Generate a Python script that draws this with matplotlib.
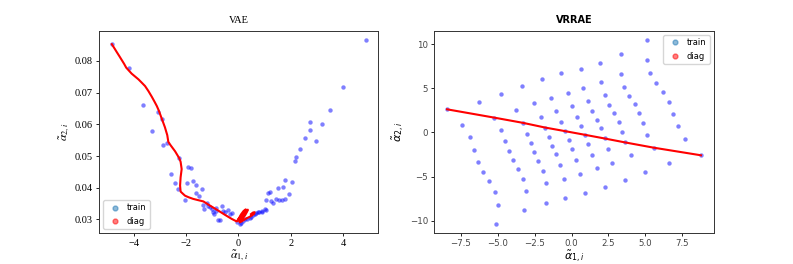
import numpy as np
import matplotlib
matplotlib.use("Agg")
import matplotlib.pyplot as plt
from matplotlib.lines import Line2D

# ---- VAE latent space (left) ----
vae_train_x = [-4.84, -4.17, -3.65, -3.29, -3.07, -2.92, -2.87, -2.74, -2.28, -2.56,
               -2.42, -2.30, -2.05, -1.98, -1.94, -1.81, -1.72, -1.61, -1.64, -1.49,
               -1.41, -1.34, -1.21, -1.15, -1.30, -1.02, -0.96, -0.86, -0.64, -0.60,
               -0.41, -0.92, -0.77, -0.71, -0.32, -0.26, -1.10, -0.50, -0.85,
               -0.07, 0.06, 0.10, 0.18, 0.25, 0.32, 0.44, 0.50, 0.56, 0.63,
               0.69, 0.76, 0.79, 0.89, 0.92, 1.01, 1.05,
               1.05, 1.14, 1.20, 1.23, 1.33, 1.42, 1.50, 1.56, 1.65, 1.69,
               1.77, 1.80, 1.94, 2.03, 2.18, 2.22, 2.37, 2.54, 2.73, 2.73,
               2.96, 3.19, 3.50, 4.01, 4.87]
vae_train_y = [0.0855, 0.0777, 0.0662, 0.0578, 0.0638, 0.0617, 0.0534, 0.0542, 0.0494, 0.0442,
               0.0415, 0.0395, 0.0362, 0.0415, 0.0467, 0.0461, 0.0420, 0.0409, 0.0382, 0.0375,
               0.0396, 0.0347, 0.0352, 0.0344, 0.0334, 0.0334, 0.0325, 0.0328, 0.0344, 0.0328,
               0.0331, 0.0318, 0.0299, 0.0299, 0.0318, 0.0322, 0.0340, 0.0325, 0.0335,
               0.0292, 0.0286, 0.0290, 0.0294, 0.0302, 0.0300, 0.0304, 0.0308, 0.0315, 0.0318,
               0.0321, 0.0323, 0.0325, 0.0328, 0.0323, 0.0334, 0.0331,
               0.0363, 0.0384, 0.0388, 0.0357, 0.0353, 0.0365, 0.0400, 0.0360, 0.0363, 0.0402,
               0.0423, 0.0365, 0.0381, 0.0419, 0.0486, 0.0498, 0.0522, 0.0556, 0.0582, 0.0608,
               0.0548, 0.0600, 0.0644, 0.0717, 0.0866]

vae_diag_x = [-4.84, -4.74, -4.65, -4.55, -4.46, -4.37, -4.29, -4.18, -4.08, -3.95,
              -3.82, -3.70, -3.57, -3.44, -3.31, -3.21, -3.12, -3.04, -2.97, -2.89,
              -2.81, -2.72, -2.68, -2.60, -2.51, -2.42, -2.34, -2.26, -2.21, -2.17,
              -2.19, -2.21, -2.23, -2.21, -2.12, -2.04, -1.90, -1.73, -1.54, -1.34,
              -1.09, -0.77, -0.52, -0.26, -0.07,
              0.00, 0.08, 0.16, 0.24, 0.30, 0.28, 0.20, 0.10, 0.02, -0.03,
              0.02, 0.10, 0.20, 0.30, 0.36, 0.34, 0.26, 0.16, 0.08, 0.05,
              0.12, 0.22, 0.32, 0.42, 0.52, 0.60, 0.62, 0.56, 0.48]
vae_diag_y = [0.0853, 0.0840, 0.0828, 0.0815, 0.0803, 0.0791, 0.0779, 0.0769, 0.0760, 0.0751,
              0.0742, 0.0732, 0.0721, 0.0705, 0.0687, 0.0672, 0.0658, 0.0643, 0.0627, 0.0609,
              0.0591, 0.0566, 0.0545, 0.0535, 0.0525, 0.0515, 0.0504, 0.0493, 0.0482, 0.0459,
              0.0446, 0.0433, 0.0407, 0.0388, 0.0381, 0.0375, 0.0370, 0.0365, 0.0361, 0.0357,
              0.0344, 0.0328, 0.0315, 0.0302, 0.0294,
              0.0296, 0.0303, 0.0312, 0.0321, 0.0328, 0.0332, 0.0327, 0.0316, 0.0304, 0.0298,
              0.0302, 0.0311, 0.0320, 0.0327, 0.0331, 0.0326, 0.0314, 0.0302, 0.0294, 0.0291,
              0.0294, 0.0299, 0.0304, 0.0308, 0.0313, 0.0318, 0.0323, 0.0322, 0.0317]

# ---- VRRAE latent space (right): 10 x 10 parameter grid ----
vrrae_x = [
    [-8.44, -7.42, -6.90, -6.63, -6.36, -6.00, -5.57, -5.16, -5.00, -5.09],
    [-6.29, -5.25, -4.80, -4.48, -4.25, -3.94, -3.60, -3.30, -3.12, -3.21],
    [-4.75, -3.78, -3.28, -3.03, -2.78, -2.53, -2.24, -1.95, -1.76, -1.74],
    [-3.35, -2.53, -2.10, -1.79, -1.56, -1.31, -1.06, -0.79, -0.54, -0.41],
    [-2.01, -1.38, -1.02, -0.70, -0.43, -0.20, 0.05, 0.29, 0.59, 0.90],
    [-0.68, -0.27, 0.05, 0.34, 0.63, 0.90, 1.15, 1.38, 1.72, 2.24],
    [0.61, 0.81, 1.11, 1.38, 1.70, 1.97, 2.24, 2.47, 2.76, 3.60],
    [1.90, 1.99, 2.24, 2.53, 2.87, 3.19, 3.39, 3.64, 4.05, 4.98],
    [3.33, 3.33, 3.55, 3.89, 4.30, 4.59, 4.84, 5.11, 5.59, 6.58],
    [5.14, 5.09, 5.34, 5.75, 6.20, 6.58, 6.90, 7.19, 7.71, 8.78],
]
vrrae_y = [
    [2.63, 0.86, -0.56, -1.99, -3.31, -4.44, -5.56, -6.73, -8.27, -10.38],
    [3.46, 1.69, 0.30, -0.98, -2.11, -3.12, -4.10, -5.23, -6.69, -8.83],
    [4.36, 2.56, 1.09, -0.19, -1.24, -2.22, -3.20, -4.36, -5.79, -7.97],
    [5.30, 3.31, 1.77, 0.56, -0.53, -1.50, -2.48, -3.68, -5.23, -7.41],
    [6.09, 3.95, 2.44, 1.17, 0.15, -0.90, -1.92, -3.16, -4.66, -6.84],
    [6.73, 4.51, 2.97, 1.77, 0.71, -0.26, -1.35, -2.59, -4.06, -6.17],
    [7.26, 5.00, 3.53, 2.41, 1.39, 0.53, -0.68, -1.92, -3.42, -5.34],
    [7.89, 5.68, 4.21, 3.16, 2.18, 1.20, 0.11, -1.13, -2.59, -4.44],
    [8.87, 6.62, 5.19, 4.14, 3.23, 2.18, 1.02, -0.30, -1.73, -3.46],
    [10.49, 8.20, 6.73, 5.60, 4.59, 3.42, 2.11, 0.71, -0.79, -2.59],
]

fig, (ax1, ax2) = plt.subplots(1, 2, figsize=(7.93, 2.64), dpi=100)

serif = "Liberation Serif"
sans = "DejaVu Sans"
fs = 6.5

def legend_handles():
    return [
        Line2D([], [], marker="o", ls="", color="C0", alpha=0.5, markersize=3.5,
               label="train"),
        Line2D([], [], marker="o", ls="", color="red", alpha=0.5, markersize=3.5,
               label="diag"),
    ]

# left panel
ax1.scatter(vae_train_x, vae_train_y, s=10, color="blue", alpha=0.5, linewidths=0)
ax1.plot(vae_diag_x, vae_diag_y, color="red", lw=1.5, solid_joinstyle="round")
ax1.set_title("VAE", fontsize=fs + 1, family=serif)
ax1.set_xlabel(r"$\tilde{\alpha}_{1,i}$", fontsize=fs + 2, math_fontfamily="stix", labelpad=0)
ax1.set_ylabel(r"$\tilde{\alpha}_{2,i}$", fontsize=fs + 2, math_fontfamily="stix", labelpad=2)
ax1.set_xticks([-4, -2, 0, 2, 4])
ax1.set_yticks([0.03, 0.04, 0.05, 0.06, 0.07, 0.08])
for lab in ax1.get_xticklabels() + ax1.get_yticklabels():
    lab.set_fontfamily(serif)
    lab.set_fontsize(fs + 1)
ax1.tick_params(length=2.5, width=0.6, pad=2)
ax1.legend(handles=legend_handles(), loc="lower left",
           prop={"family": sans, "size": fs - 0.5}, handletextpad=0.4, borderpad=0.4)

# right panel
gx = np.array(vrrae_x)
gy = np.array(vrrae_y)
ax2.scatter(gx.ravel(), gy.ravel(), s=10, color="blue", alpha=0.5, linewidths=0)
ax2.plot(np.diag(gx), np.diag(gy), color="red", lw=1.5)
ax2.set_title("VRRAE", fontsize=fs + 0.5, family=sans, fontweight="bold")
ax2.set_xlabel(r"$\tilde{\alpha}_{1,i}$", fontsize=fs + 1.5, math_fontfamily="dejavusans", labelpad=0)
ax2.set_ylabel(r"$\tilde{\alpha}_{2,i}$", fontsize=fs + 1.5, math_fontfamily="dejavusans", labelpad=2)
ax2.set_xticks([-7.5, -5.0, -2.5, 0.0, 2.5, 5.0, 7.5])
ax2.set_yticks([-10, -5, 0, 5, 10])
ax2.tick_params(labelsize=fs - 0.3, length=2.5, width=0.6, pad=2, labelcolor="#444444")
ax2.legend(handles=legend_handles(), loc="upper right",
           prop={"family": sans, "size": fs - 0.5}, handletextpad=0.4, borderpad=0.4)

for ax in (ax1, ax2):
    for sp in ax.spines.values():
        sp.set_linewidth(0.7)
        sp.set_color("#333333")

fig.subplots_adjust(left=0.125, right=0.9, bottom=0.117, top=0.883, wspace=0.2)
fig.savefig("out.png", dpi=100)
